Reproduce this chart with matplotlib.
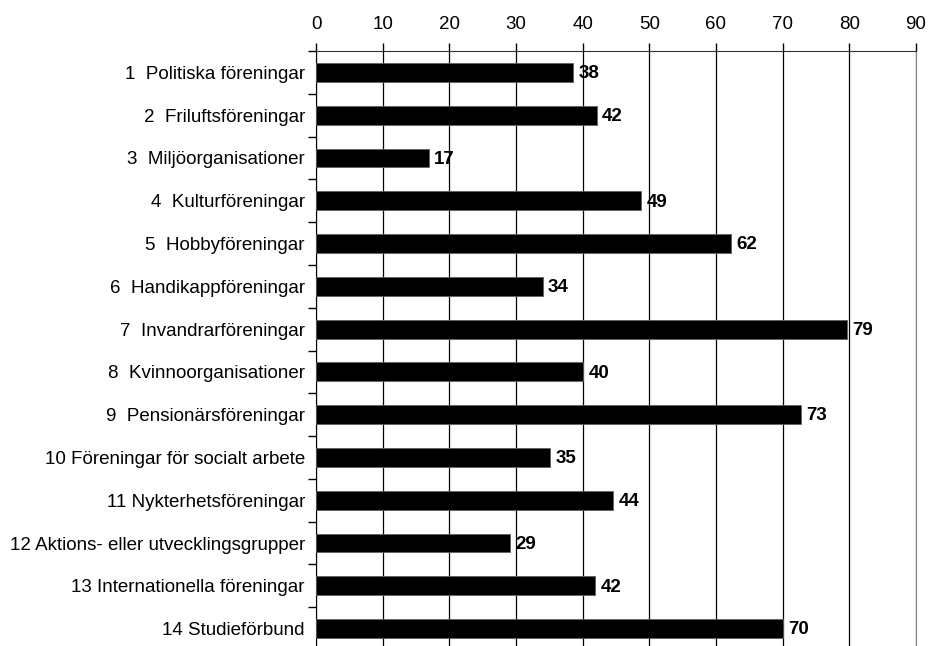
import matplotlib
matplotlib.use('Agg')
import matplotlib.pyplot as plt
import numpy as np

plt.rc('font', family=['Liberation Sans', 'DejaVu Sans'], size=13.5)

categories = ['1  Politiska föreningar', '2  Friluftsföreningar', '3  Miljöorganisationer',
              '4  Kulturföreningar', '5  Hobbyföreningar', '6  Handikappföreningar',
              '7  Invandrarföreningar', '8  Kvinnoorganisationer', '9  Pensionärsföreningar',
              '10 Föreningar för socialt arbete', '11 Nykterhetsföreningar',
              '12 Aktions- eller utvecklingsgrupper', '13 Internationella föreningar',
              '14 Studieförbund']
# bar lengths, labels as printed
values = [38.6, 42.1, 16.9, 48.8, 62.2, 34.0, 79.6, 40.1, 72.8, 35.1, 44.6, 29.1, 41.9, 70.0]
labels = [38, 42, 17, 49, 62, 34, 79, 40, 73, 35, 44, 29, 42, 70]
xticks = range(0, 100, 10)

fig = plt.figure(figsize=(9.3, 6.46), dpi=100)
ax = fig.add_axes([316/930, -4/646, 600/930, 599/646])

y = np.arange(len(categories))
ax.barh(y, values, height=0.44, color='black', edgecolor='#606060', linewidth=0.6, zorder=3)
for yi, v, lab in zip(y, values, labels):
    ax.text(v + 0.8, yi + 0.03, str(lab), va='center', ha='left', fontweight='bold', fontsize=13.5, zorder=4)

ax.set_xlim(0, 90)
ax.set_ylim(len(categories) - 0.5, -0.5)
ax.xaxis.tick_top()
ax.set_xticks(list(xticks))
ax.tick_params(axis='x', direction='out', length=6, width=1, pad=7, labelsize=13.5)
ax.grid(True, axis='x', color='black', linewidth=0.9, zorder=0)

ax.set_yticks(np.arange(-0.5, len(categories), 1.0))
ax.set_yticklabels([])
ax.set_yticks(y, minor=True)
ax.set_yticklabels(categories, minor=True)
ax.tick_params(axis='y', which='major', direction='out', length=6, width=1)
ax.tick_params(axis='y', which='minor', length=0, pad=8, labelsize=13.5)

ax.spines['top'].set_color('#333333')
ax.spines['left'].set_color('black')
ax.spines['right'].set_color('#888888')
ax.spines['bottom'].set_visible(False)

fig.savefig('out.png', dpi=100)
